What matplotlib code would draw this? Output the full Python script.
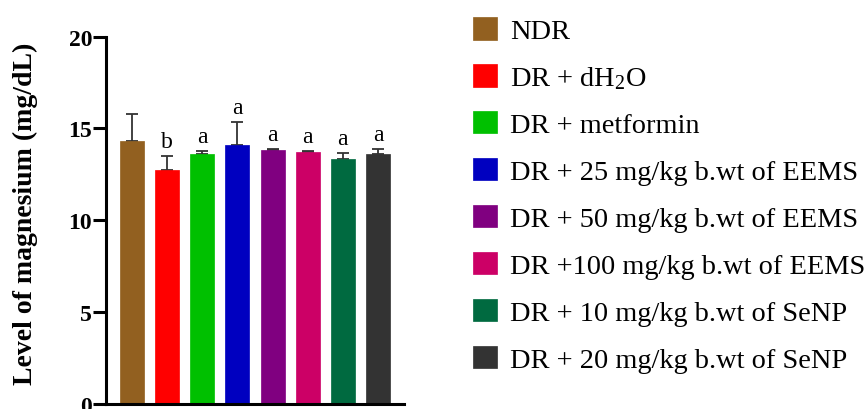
import matplotlib
matplotlib.use("Agg")
import matplotlib.pyplot as plt
import numpy as np

plt.rcParams['font.family'] = ['Liberation Serif', 'DejaVu Serif']
plt.rcParams['mathtext.fontset'] = 'custom'
plt.rcParams['mathtext.rm'] = 'Liberation Serif'
plt.rcParams['mathtext.it'] = 'Liberation Serif:italic'
plt.rcParams['mathtext.bf'] = 'Liberation Serif:bold'

groups = ["NDR", "DR + dH$_2$O", "DR + metformin", "DR + 25 mg/kg b.wt of EEMS",
          "DR + 50 mg/kg b.wt of EEMS", "DR +100 mg/kg b.wt of EEMS",
          "DR + 10 mg/kg b.wt of SeNP", "DR + 20 mg/kg b.wt of SeNP"]
means = [14.33, 12.72, 13.59, 14.10, 13.80, 13.70, 13.35, 13.62]
errors = [1.47, 0.78, 0.20, 1.26, 0.10, 0.09, 0.29, 0.24]
letters = ["", "b", "a", "a", "a", "a", "a", "a"]
colors = ["#926020", "#FF0000", "#00C000", "#0000C0", "#800080", "#CC0066", "#006A40", "#333333"]
yticks = [0, 5, 10, 15, 20]

fig = plt.figure(figsize=(8.67, 4.10), dpi=100)
ax = fig.add_axes([106/867, 5/410, (404-106)/867, (405-37.5)/410])

x = np.arange(len(means))
bars = ax.bar(x, means, width=0.68, color=colors, edgecolor=colors, linewidth=0.5, zorder=2)
ax.errorbar(x, means, yerr=[np.zeros(len(errors)), errors], fmt='none',
            ecolor='#333333', elinewidth=1.3, capsize=4, capthick=1.3, zorder=1)
for xi, m, e, lab in zip(x, means, errors, letters):
    if lab:
        ax.text(xi, m + e + 0.22, lab, ha='center', va='bottom', fontsize=17)

ax.set_xlim(-0.74, 7.74)
ax.set_ylim(0, 20)
ax.set_yticks(yticks)
ax.set_xticks([])
for s in ['top', 'right']:
    ax.spines[s].set_visible(False)
for s in ['left', 'bottom']:
    ax.spines[s].set_linewidth(2.2)
ax.tick_params(axis='y', length=9.5, width=2.2, pad=0.5, labelsize=17)
for t in ax.get_yticklabels():
    t.set_fontweight('bold')
ax.set_ylabel("Level of magnesium (mg/dL)", fontsize=20, fontweight='bold')
ax.yaxis.set_label_coords(-0.228, 0.52)

leg = fig.legend(bars, groups, loc='upper left', bbox_to_anchor=(473/867, 1 - 18/410),
                 frameon=False, fontsize=20.4, handlelength=0.85, handleheight=0.85,
                 handletextpad=0.45, labelspacing=0.70, borderpad=0, borderaxespad=0)

fig.savefig("out.png", dpi=100)
